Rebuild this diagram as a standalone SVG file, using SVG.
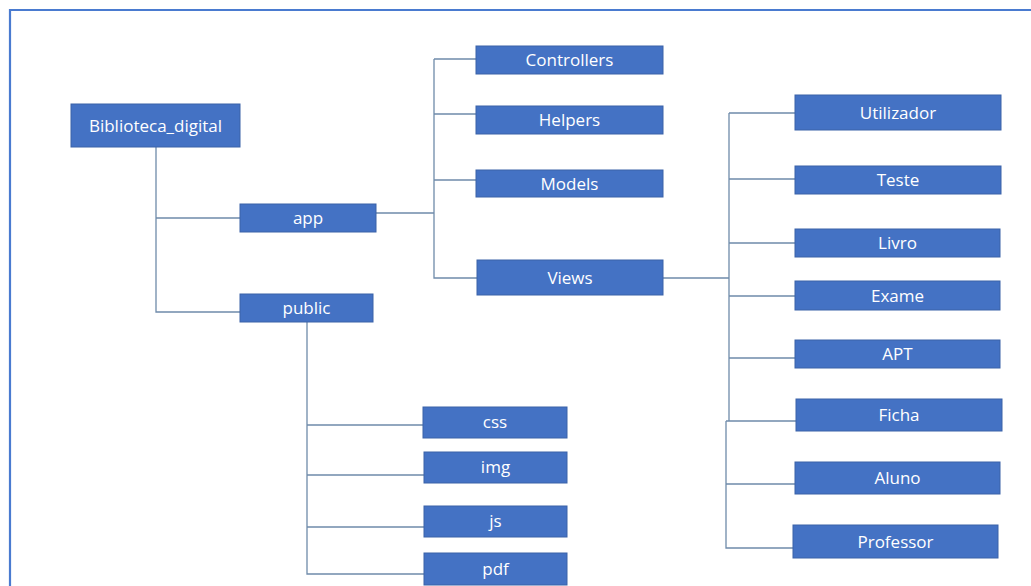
<svg xmlns="http://www.w3.org/2000/svg" width="1031" height="586" viewBox="0 0 1031 586">
<style>
.n rect{fill:#4472C4;stroke:#3A62A8;stroke-width:1}
.n text{fill:#fff;font-family:"Open Sans","Liberation Sans",sans-serif;font-size:17px;text-anchor:middle;dominant-baseline:central}
.c path{fill:none;stroke:#6F8BAA;stroke-width:1.3}
</style>
<rect x="0" y="0" width="1031" height="586" fill="#fff"/>
<path d="M10 586 V10 H1031" fill="none" stroke="#4A7BD0" stroke-width="2.2"/>
<g class="c" id="connectors">
<path d="M156 147 V312 H240 M156 218 H240"/>
<path d="M376 213 H434 M434 59 V278 H477 M434 59 H476 M434 114 H476 M434 180 H476"/>
<path d="M663 278 H729 M729 113 V421 M726 421 V548 H793 M729 113 H795 M729 179 H795 M729 243 H795 M729 296 H795 M729 358 H795 M726 421 H796 M726 484 H795 M726 421 H729"/>
<path d="M307 322 V574 H424 M307 425 H423 M307 475 H424 M307 527 H424"/>
</g>
<g class="n" id="biblioteca_digital"><rect x="71" y="104" width="169" height="43"/><text x="155.5" y="125">Biblioteca_digital</text></g>
<g class="n" id="app"><rect x="240" y="204" width="136" height="28"/><text x="308" y="217.5">app</text></g>
<g class="n" id="public"><rect x="240" y="294" width="133" height="28"/><text x="306.5" y="307.5">public</text></g>
<g class="n" id="controllers"><rect x="476" y="46" width="187" height="28"/><text x="569.5" y="59">Controllers</text></g>
<g class="n" id="helpers"><rect x="476" y="106" width="187" height="28"/><text x="569.5" y="119.5">Helpers</text></g>
<g class="n" id="models"><rect x="476" y="170" width="187" height="27"/><text x="569.5" y="183">Models</text></g>
<g class="n" id="views"><rect x="477" y="260" width="186" height="35"/><text x="570" y="277">Views</text></g>
<g class="n" id="utilizador"><rect x="795" y="95" width="206" height="35"/><text x="898" y="112">Utilizador</text></g>
<g class="n" id="teste"><rect x="795" y="166" width="206" height="28"/><text x="898" y="179.5">Teste</text></g>
<g class="n" id="livro"><rect x="795" y="229" width="205" height="28"/><text x="897.5" y="242.5">Livro</text></g>
<g class="n" id="exame"><rect x="795" y="281" width="205" height="29"/><text x="897.5" y="295">Exame</text></g>
<g class="n" id="apt"><rect x="795" y="340" width="205" height="28"/><text x="897.5" y="353">APT</text></g>
<g class="n" id="ficha"><rect x="796" y="399" width="206" height="32"/><text x="899" y="414">Ficha</text></g>
<g class="n" id="aluno"><rect x="795" y="462" width="205" height="32"/><text x="897.5" y="477">Aluno</text></g>
<g class="n" id="professor"><rect x="793" y="525" width="205" height="33"/><text x="895.5" y="541">Professor</text></g>
<g class="n" id="css"><rect x="423" y="407" width="144" height="31"/><text x="495" y="421.5">css</text></g>
<g class="n" id="img"><rect x="424" y="452" width="143" height="31"/><text x="495.5" y="466.5">img</text></g>
<g class="n" id="js"><rect x="424" y="506" width="143" height="31"/><text x="495.5" y="520.5">js</text></g>
<g class="n" id="pdf"><rect x="424" y="553" width="143" height="32"/><text x="495.5" y="568.5">pdf</text></g>
</svg>
